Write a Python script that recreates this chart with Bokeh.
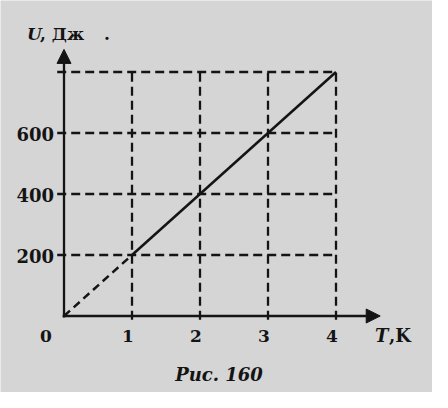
from bokeh.plotting import figure
from bokeh.models import Range1d, Arrow, NormalHead
from bokeh.core.properties import value
from bokeh.embed import file_html
from bokeh.resources import INLINE

# data
T_line = [0, 1, 4]
U_line = [0, 200, 800]
x_ticks = [1, 2, 3, 4]
x_tick_labels = ["1", "2", "3", "4"]
y_ticks = [200, 400, 600, 800]
y_tick_labels = ["200", "400", "600", ""]
x_max = 4
y_max = 800
caption = "Рис. 160"

BG = "#d5d5d5"
INK = "#141414"
SERIF = value("DejaVu Serif")

p = figure(width=432, height=392, output_backend="svg", toolbar_location=None,
           x_range=Range1d(-0.934, 5.419), y_range=Range1d(-250.8, 1034.4),
           min_border=0)
p.axis.visible = False
p.grid.visible = False
p.outline_line_color = None
p.background_fill_color = BG
p.border_fill_color = BG

# dashed grid
p.segment(x0=[-0.1] * len(y_ticks), y0=y_ticks, x1=[x_max] * len(y_ticks), y1=y_ticks,
          line_color=INK, line_width=2.3, line_dash="9 5")
p.segment(x0=x_ticks, y0=[-12] * len(x_ticks), x1=x_ticks, y1=[y_max] * len(x_ticks),
          line_color=INK, line_width=2.3, line_dash="9 5")

# axes with arrows
p.add_layout(Arrow(end=NormalHead(size=14, fill_color=INK, line_color=INK),
                   x_start=0, y_start=-5, x_end=0, y_end=874,
                   line_color=INK, line_width=2.3))
p.add_layout(Arrow(end=NormalHead(size=14, fill_color=INK, line_color=INK),
                   x_start=-0.02, y_start=0, x_end=4.65, y_end=0,
                   line_color=INK, line_width=2.3))

# the graph: dashed part to T=1, solid part after
p.line(T_line[:2], U_line[:2], line_color=INK, line_width=2.5, line_dash="8 5")
p.line(T_line[1:], U_line[1:], line_color=INK, line_width=2.5)

# tick labels
p.text(x=x_ticks, y=[0] * len(x_ticks), text=x_tick_labels, x_offset=-4, y_offset=20,
       text_font=SERIF, text_font_style="bold", text_font_size="17px",
       text_align="center", text_baseline="middle", text_color=INK)
p.text(x=[0], y=[0], text=["0"], x_offset=-18, y_offset=20,
       text_font=SERIF, text_font_style="bold", text_font_size="17px",
       text_align="center", text_baseline="middle", text_color=INK)
p.text(x=[0] * len(y_ticks), y=y_ticks, text=y_tick_labels, x_offset=-10, y_offset=1,
       text_font=SERIF, text_font_style="bold", text_font_size="18px",
       text_align="right", text_baseline="middle", text_color=INK)

# axis titles
p.text(x=[0], y=[y_max], text=["U"], x_offset=-37, y_offset=-38,
       text_font=SERIF, text_font_style="bold italic", text_font_size="17px",
       text_align="left", text_baseline="middle", text_color=INK)
p.text(x=[0], y=[y_max], text=[", Дж"], x_offset=-24, y_offset=-38,
       text_font=SERIF, text_font_style="bold", text_font_size="17px",
       text_align="left", text_baseline="middle", text_color=INK)
p.text(x=[0], y=[y_max], text=["."], x_offset=40, y_offset=-38,
       text_font=SERIF, text_font_style="bold", text_font_size="17px",
       text_align="left", text_baseline="middle", text_color=INK)
p.text(x=[x_max], y=[0], text=["T"], x_offset=39, y_offset=19,
       text_font=SERIF, text_font_style="bold italic", text_font_size="18px",
       text_align="left", text_baseline="middle", text_color=INK)
p.text(x=[x_max], y=[0], text=[",K"], x_offset=53, y_offset=19,
       text_font=SERIF, text_font_style="bold", text_font_size="18px",
       text_align="left", text_baseline="middle", text_color=INK)

# caption
p.text(x=[x_max / 2], y=[0], text=[caption], x_offset=19, y_offset=58,
       text_font=SERIF, text_font_style="bold italic", text_font_size="18px",
       text_align="center", text_baseline="middle", text_color=INK)

open("out.html", "w").write(file_html(p, INLINE))
